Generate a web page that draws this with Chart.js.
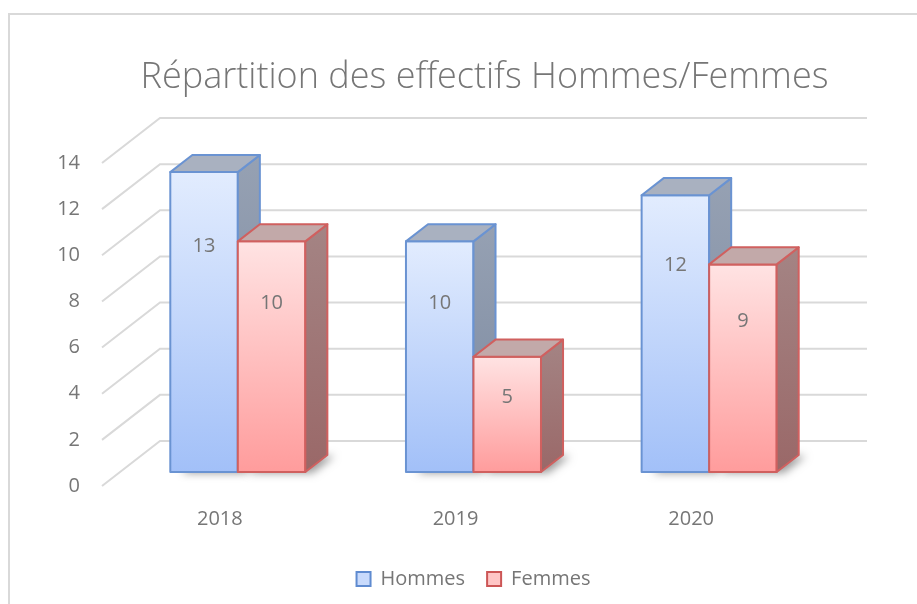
<!DOCTYPE html>
<html>
<head>
<meta charset="utf-8">
<title>Effectifs</title>
<script src="https://cdn.jsdelivr.net/npm/chart.js@4.4.1/dist/chart.umd.min.js"></script>
<style>
  html, body { margin: 0; padding: 0; background: #fff; }
  #wrap { width: 917px; height: 604px; position: relative; overflow: hidden; }
</style>
</head>
<body>
<div id="wrap"><canvas id="myChart" width="917" height="604"></canvas></div>
<script>
/* globals Chart:false */

const titleText = 'Répartition des effectifs Hommes/Femmes';
const years = ['2018', '2019', '2020'];
const hommes = [13, 10, 12];
const femmes = [10, 5, 9];
const yTicks = [0, 2, 4, 6, 8, 10, 12, 14];

const TEXT = '#767676';
const DEPTH_X = 58, DEPTH_Y = 45;       // offset of the back wall from the front plane
const BAR_NEAR = 0.31, BAR_FAR = 0.69;  // where the columns sit in that depth

// colours of the faces, per series
const faces = [
  { light: '#e2ecfe', dark: '#a2c0f8', side: ['#96a1b3', '#7a889f'], top: '#a9b1c0', line: '#6a93d2' },
  { light: '#ffe3e3', dark: '#ff9c9c', side: ['#a48484', '#9a6868'], top: '#c2a9a9', line: '#d0605f' }
];

function poly(ctx, pts) {
  ctx.beginPath();
  ctx.moveTo(pts[0][0], pts[0][1]);
  for (let i = 1; i < pts.length; i++) ctx.lineTo(pts[i][0], pts[i][1]);
  ctx.closePath();
}

function drawColumn(ctx, bar, f, value) {
  const nx = BAR_NEAR * DEPTH_X, ny = BAR_NEAR * DEPTH_Y;
  const dx = (BAR_FAR - BAR_NEAR) * DEPTH_X, dy = (BAR_FAR - BAR_NEAR) * DEPTH_Y;
  const x0 = bar.x - bar.width / 2 + nx, x1 = bar.x + bar.width / 2 + nx;
  const top = bar.y - ny, bot = bar.base - ny;

  ctx.lineWidth = 2;
  ctx.lineJoin = 'round';
  ctx.strokeStyle = f.line;

  // soft shadow on the floor
  ctx.save();
  ctx.shadowColor = 'rgba(0,0,0,0.4)';
  ctx.shadowBlur = 8;
  ctx.shadowOffsetX = 7;
  ctx.shadowOffsetY = 1;
  poly(ctx, [[x0 + 4, bot], [x1, bot], [x1 + dx, bot - dy], [x0 + dx, bot - dy]]);
  ctx.fillStyle = '#888';
  ctx.fill();
  ctx.restore();

  // front
  let g = ctx.createLinearGradient(0, top, 0, bot);
  g.addColorStop(0, f.light);
  g.addColorStop(1, f.dark);
  ctx.fillStyle = g;
  poly(ctx, [[x0, top], [x1, top], [x1, bot], [x0, bot]]);
  ctx.fill();
  ctx.stroke();

  // right side
  g = ctx.createLinearGradient(0, top - dy, 0, bot);
  g.addColorStop(0, f.side[0]);
  g.addColorStop(1, f.side[1]);
  ctx.fillStyle = g;
  poly(ctx, [[x1, top], [x1 + dx, top - dy], [x1 + dx, bot - dy], [x1, bot]]);
  ctx.fill();
  ctx.stroke();

  // top
  ctx.fillStyle = f.top;
  poly(ctx, [[x0, top], [x0 + dx, top - dy], [x1 + dx, top - dy], [x1, top]]);
  ctx.fill();
  ctx.stroke();

  // value
  const h = bot - top;
  ctx.fillStyle = TEXT;
  ctx.font = '20px "Open Sans"';
  ctx.textAlign = 'center';
  ctx.textBaseline = 'middle';
  ctx.fillText(value, (x0 + x1) / 2, top + 20 + 0.18 * h);
}

const columns3d = {
  id: 'columns3d',
  beforeDraw(chart) {
    const { ctx, chartArea: a } = chart;
    ctx.save();
    // chart frame
    ctx.strokeStyle = '#d9d9d9';
    ctx.lineWidth = 2;
    ctx.strokeRect(9, 14, 1000, 1000);
    // title, centred over the whole plot including its depth
    ctx.fillStyle = TEXT;
    ctx.font = '300 36px "Open Sans"';
    ctx.textAlign = 'center';
    ctx.textBaseline = 'middle';
    ctx.fillText(titleText, (a.left + a.right + DEPTH_X) / 2, 78);
    ctx.restore();
  },
  beforeDatasetsDraw(chart) {
    const { ctx, chartArea: a, scales: { y } } = chart;
    ctx.save();

    // gridlines: slanted on the floor edge, then along the back wall
    ctx.strokeStyle = '#d9d9d9';
    ctx.lineWidth = 2;
    y.ticks.forEach(t => {
      const py = y.getPixelForValue(t.value);
      ctx.beginPath();
      ctx.moveTo(a.left, py);
      ctx.lineTo(a.left + DEPTH_X, py - DEPTH_Y);
      ctx.lineTo(a.right + DEPTH_X, py - DEPTH_Y);
      ctx.stroke();
    });

    // one year at a time so the second column hides the first one's side
    const metas = chart.data.datasets.map((d, i) => chart.getDatasetMeta(i));
    years.forEach((yr, j) => {
      metas.forEach((meta, i) => {
        drawColumn(ctx, meta.data[j], faces[i], chart.data.datasets[i].data[j]);
      });
    });

    ctx.restore();
    return false; // columns are drawn above, skip the flat bars
  }
};

Chart.defaults.font.family = '"Open Sans", sans-serif';
Chart.defaults.font.size = 20;
Chart.defaults.color = TEXT;

const ctx = document.getElementById('myChart');
const myChart = new Chart(ctx, {
  type: 'bar',
  data: {
    labels: years,
    datasets: [
      { label: 'Hommes', data: hommes, yAxisID: 'y', backgroundColor: '#c8dafc', borderColor: '#5f8bd0', borderWidth: 2,
        categoryPercentage: 0.573, barPercentage: 1 },
      { label: 'Femmes', data: femmes, yAxisID: 'y', backgroundColor: '#ffc6c6', borderColor: '#cc5656', borderWidth: 2,
        categoryPercentage: 0.573, barPercentage: 1 }
    ]
  },
  options: {
    responsive: false,
    animation: false,
    layout: { padding: { top: 163, left: 30, right: 0, bottom: 5 } },
    scales: {
      x: {
        grid: { display: false, drawTicks: false },
        border: { display: false },
        ticks: { padding: 21 },
        afterFit: s => { s.height = 61; }
      },
      y: {
        min: yTicks[0],
        max: yTicks[yTicks.length - 1],
        grid: { display: false, drawTicks: false },
        border: { display: false },
        ticks: { stepSize: yTicks[1] - yTicks[0], padding: 22 },
        afterFit: s => { s.width = 72; }
      },
      // empty axis on the right, leaves room for the depth of the plot
      depth: {
        position: 'right',
        grid: { display: false, drawTicks: false },
        border: { display: false },
        ticks: { display: false },
        afterFit: s => { s.width = 108; }
      }
    },
    plugins: {
      title: { display: false },
      tooltip: { enabled: false },
      legend: {
        position: 'bottom',
        labels: { boxWidth: 14, boxHeight: 14, padding: 22 }
      }
    }
  },
  plugins: [columns3d]
});
</script>
</body>
</html>
